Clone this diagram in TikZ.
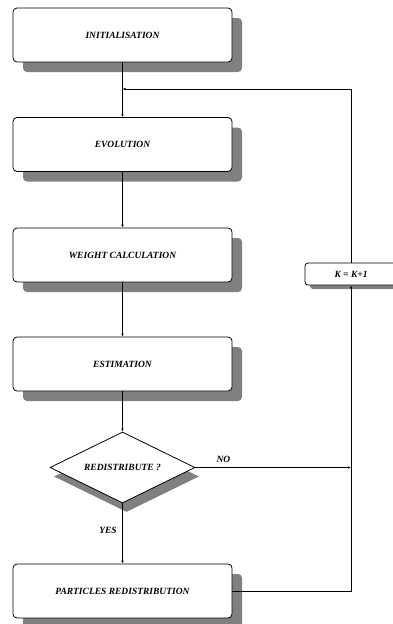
\documentclass[tikz,border=0pt]{standalone}
\usepackage{fontspec}
\setmainfont{Liberation Serif}
\usetikzlibrary{shapes.geometric,shadows,arrows.meta}
\begin{document}
\begin{tikzpicture}[x=1pt,y=-1pt,
  lbl/.style={font=\fontsize{9.5}{11}\selectfont\bfseries\itshape},
  procbox/.style={draw=black,line width=0.8pt,fill=white,rounded corners=4pt,minimum width=219pt,minimum height=54pt,inner sep=0pt,lbl,
    drop shadow={shadow xshift=10pt,shadow yshift=-10pt,fill=gray,opacity=1}},
  kbox/.style={draw=black,line width=0.8pt,fill=white,rounded corners=3pt,minimum width=92pt,minimum height=22pt,inner sep=0pt,lbl,
    drop shadow={shadow xshift=5pt,shadow yshift=-4pt,fill=gray,opacity=1}},
  decbox/.style={diamond,draw=black,line width=0.8pt,fill=white,minimum width=145pt,minimum height=71pt,aspect=2.04,inner sep=0pt,lbl,
    drop shadow={shadow xshift=4pt,shadow yshift=-9pt,fill=gray,opacity=1}},
  conn/.style={draw=black,line width=0.8pt},
  arr/.style={conn,-{Latex[length=3pt,width=2.5pt]}}]
\useasboundingbox (0,0) rectangle (393,624);
\node[procbox] (init) at (122.5,35) {INITIALISATION};
\node[procbox] (evol) at (122.5,144.5) {EVOLUTION};
\node[procbox] (weight) at (122.5,255) {WEIGHT CALCULATION};
\node[procbox] (est) at (122.5,364) {ESTIMATION};
\node[decbox] (dec) at (122.5,467.5) {REDISTRIBUTE ?};
\node[procbox] (part) at (122.5,591) {PARTICLES REDISTRIBUTION};
\node[kbox] (k) at (351,274) {K = K+1};
\coordinate (j) at (122.5,89);
\coordinate (jr) at (351,89);
\coordinate (nr) at (351,467.5);
\coordinate (pr) at (351,591);
\draw[conn] (init.south) -- (j);
\draw[arr] (j) -- (evol.north);
\draw[arr] (evol.south) -- (weight.north);
\draw[arr] (weight.south) -- (est.north);
\draw[arr] (est.south) -- (dec.north);
\draw[arr] (dec.south) -- node[pos=0.45,left=2pt,lbl]{YES} (part.north);
\draw[arr] (dec.east) -- node[pos=0.18,above=1pt,lbl]{NO} (nr);
\draw[arr] (part.east) -- (pr) -- (k.south);
\draw[arr] (k.north) -- (jr) -- (j);
\end{tikzpicture}
\end{document}
